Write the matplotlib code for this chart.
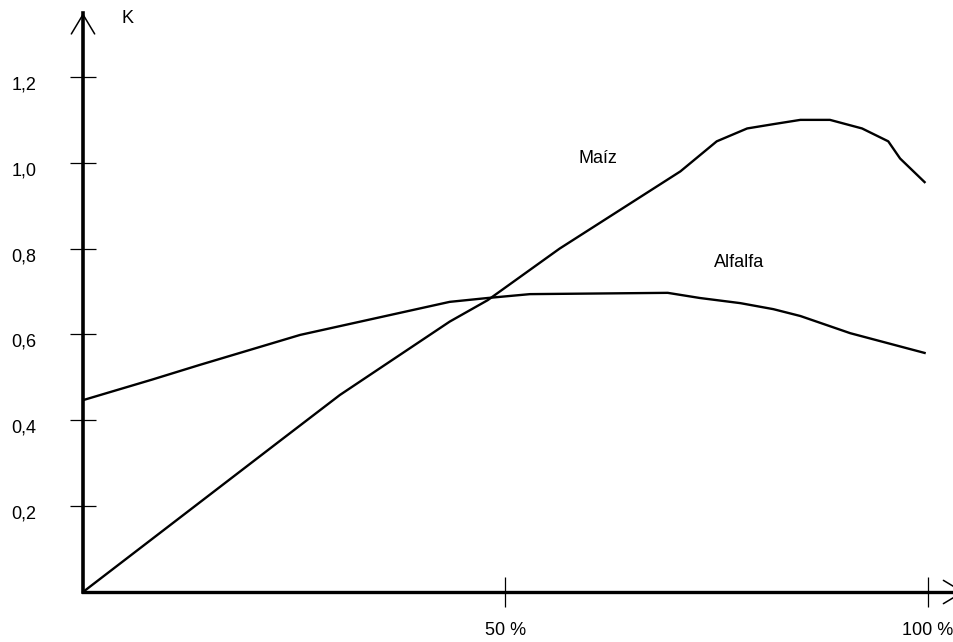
import matplotlib
matplotlib.use('Agg')
import matplotlib.pyplot as plt
import matplotlib.transforms as mtransforms

plt.rcParams['font.family'] = ['Liberation Sans', 'DejaVu Sans']

# datos (x en %, K)
maiz_x = [0, 14.1, 23.3, 30.4, 43.4, 47.9, 56.4, 70.7, 75.0, 78.6, 81.7, 84.9, 88.4, 92.2, 95.3, 96.7, 99.6]
maiz_k = [0, 0.213, 0.352, 0.459, 0.63, 0.68, 0.80, 0.98, 1.05, 1.08, 1.09, 1.10, 1.10, 1.08, 1.05, 1.01, 0.955]

alfalfa_x = [0, 8.2, 13.8, 25.7, 43.4, 47.9, 52.9, 69.2, 73.0, 77.8, 81.7, 84.9, 90.8, 99.6]
alfalfa_k = [0.447, 0.495, 0.529, 0.599, 0.676, 0.685, 0.694, 0.697, 0.685, 0.673, 0.659, 0.643, 0.603, 0.557]

y_ticks = [0.2, 0.4, 0.6, 0.8, 1.0, 1.2]
y_labels = ['0,2', '0,4', '0,6', '0,8', '1,0', '1,2']
x_ticks = [50, 100]
x_labels = ['50 %', '100 %']

fig = plt.figure(figsize=(9.54, 6.42), dpi=100)
ax = fig.add_axes([83 / 954, 50 / 642, 871 / 954, 579 / 642])
ax.set_xlim(0, 103.08)
ax.set_ylim(0, 1.349)

ax.plot(maiz_x, maiz_k, color='black', lw=1.7)
ax.plot(alfalfa_x, alfalfa_k, color='black', lw=1.7)

for s in ['top', 'right']:
    ax.spines[s].set_visible(False)
ax.spines['left'].set_linewidth(2.6)
ax.spines['bottom'].set_linewidth(2.4)

# flechas de los ejes
arrow = dict(arrowstyle='->, head_length=0.7, head_width=0.42', lw=1.1,
             color='black', shrinkA=0, shrinkB=0, mutation_scale=20)
ax.annotate('', xy=(0, 1.349), xytext=(0, 1.26), arrowprops=arrow,
            annotation_clip=False)
ax.annotate('', xy=(104.3, 0), xytext=(99, 0), arrowprops=arrow,
            annotation_clip=False)

ax.set_yticks(y_ticks)
ax.set_yticklabels(y_labels)
ax.set_xticks(x_ticks)
ax.set_xticklabels(x_labels)
ax.tick_params(axis='y', direction='inout', length=19, width=0.9, pad=24, labelsize=13)
ax.tick_params(axis='x', direction='inout', length=21, width=0.9, pad=11, labelsize=13)

off = mtransforms.ScaledTranslation(0, -0.06, fig.dpi_scale_trans)
for lab in ax.get_yticklabels():
    lab.set_transform(lab.get_transform() + off)

ax.text(5.3, 1.337, 'K', fontsize=13, ha='center', va='center')
ax.text(60.9, 1.011, 'Maíz', fontsize=13, ha='center', va='center')
ax.text(77.6, 0.767, 'Alfalfa', fontsize=13, ha='center', va='center')

fig.savefig('out.png', dpi=100)
